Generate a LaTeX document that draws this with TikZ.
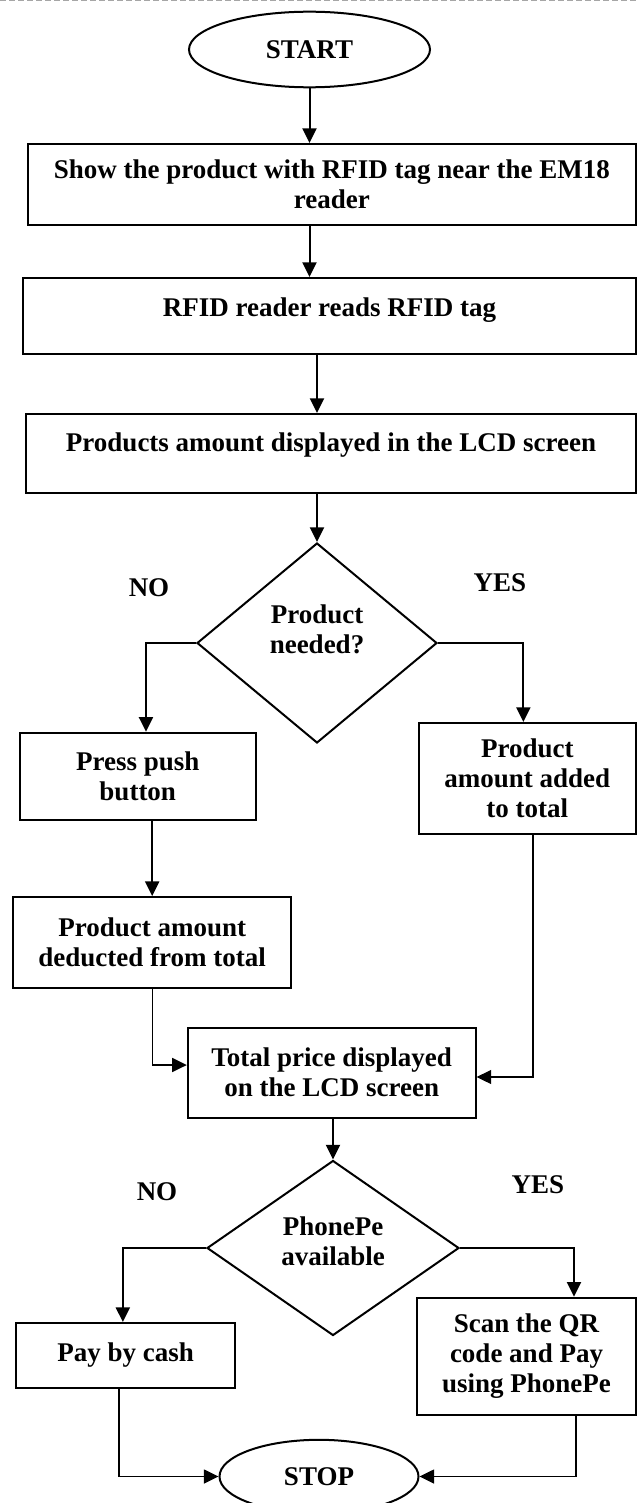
\documentclass[tikz,border=0pt]{standalone}
\usepackage{fontspec}
\setmainfont{Liberation Serif}
\usetikzlibrary{arrows.meta,shapes.geometric,calc}
\tikzset{
  lbl/.style={font=\bfseries\fontsize{13.5}{15}\selectfont, align=center, inner sep=0pt},
  base/.style={lbl, draw, line width=1pt},
  box/.style={base, rectangle},
  oval/.style={base, ellipse},
  dia/.style={base, diamond},
  arr/.style={line width=1pt, -{Triangle[length=7.3pt,width=7pt]}},
  tarr/.style={line width=0.7pt, -{Triangle[length=7.3pt,width=7pt]}},
  topline/.style={draw=black!35, line width=0.5pt, dash pattern=on 3pt off 1.5pt},
}
\begin{document}
\begin{tikzpicture}[x=0.5pt,y=-0.5pt]
\clip (0,0) rectangle (637,1503);
\coordinate (tl) at (0,1);
\coordinate (tr) at (637,1);
\draw[topline] (tl) -- (tr);

% nodes
\node[oval, minimum width=120.5pt, minimum height=37.8pt] (start) at (309.5,49.5) {START};
\node[box, minimum width=304.2pt, minimum height=40.5pt] (b1) at (331.8,184.5) {Show the product with RFID tag near the EM18\\reader};
\node[box, minimum width=306.5pt, minimum height=38pt, text height=9pt, text depth=9pt] (b2) at (329.5,316) {RFID reader reads RFID tag};
\node[box, minimum width=305pt, minimum height=39.5pt, text height=9pt, text depth=11.3pt] (b3) at (331,453.5) {Products amount displayed in the LCD screen};
\node[dia, minimum width=120pt, minimum height=100pt] (d1) at (317,643) {};
\node[lbl] (d1t) at (317,629) {Product\\needed?};
\node[lbl] (no1) at (149,588) {NO};
\node[lbl] (yes1) at (500,583) {YES};
\node[box, minimum width=118.25pt, minimum height=43.65pt] (b4) at (137.75,776.35) {Press push\\button};
\node[box, minimum width=108.65pt, minimum height=55.5pt] (b5) at (527.35,778.5) {Product\\amount added\\to total};
\node[box, minimum width=138.8pt, minimum height=45.5pt] (b6) at (152.2,942.5) {Product amount\\deducted from total};
\node[box, minimum width=143.9pt, minimum height=45pt] (b7) at (331.7,1072.7) {Total price displayed\\on the LCD screen};
\node[dia, minimum width=126pt, minimum height=87.5pt] (d2) at (333,1248) {};
\node[lbl] (d2t) at (333,1241.7) {PhonePe\\available};
\node[lbl] (no2) at (157,1192) {NO};
\node[lbl] (yes2) at (538,1185) {YES};
\node[box, minimum width=109.35pt, minimum height=32.5pt] (b8) at (125.65,1355.5) {Pay by cash};
\node[box, minimum width=109.5pt, minimum height=58.65pt] (b9) at (526.5,1356.35) {Scan the QR\\code and Pay\\using PhonePe};
\node[oval, minimum width=99.5pt, minimum height=36.7pt] (stop) at (319,1476.5) {STOP};

% connectors
\draw[arr] (start.south) -- (start.south |- b1.north);
\draw[arr] (b1.south -| start) -- (b2.north -| start);
\draw[arr] (b2.south -| d1) -- (b3.north -| d1);
\draw[arr] (b3.south -| d1) -- (d1.north);
\draw[arr] (d1.west) -| ([xshift=4.1pt]b4.north);
\draw[arr] (d1.east) -| ([xshift=-2pt]b5.north);
\draw[arr] (b6.north |- b4.south) -- (b6.north);
\draw[tarr] (b6.south) |- ([yshift=3.85pt]b7.west);
\draw[tarr] ([xshift=2.8pt]b5.south) |- ([yshift=-2.15pt]b7.east);
\draw[arr] (b7.south -| d2) -- (d2.north);
\draw[arr] (d2.west) -| ([xshift=-1.4pt]b8.north);
\draw[arr] (d2.east) -| ([xshift=23.75pt]b9.north);
\draw[tarr] ([xshift=-3.3pt]b8.south) |- (stop.west);
\draw[tarr] ([xshift=24.75pt]b9.south) |- (stop.east);
\end{tikzpicture}
\end{document}
